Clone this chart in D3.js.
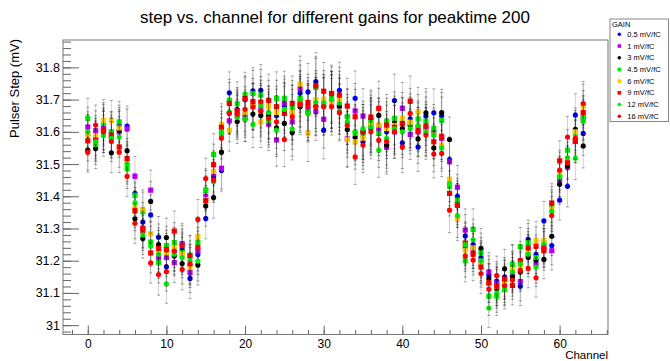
<!DOCTYPE html>
<html><head><meta charset="utf-8">
<script src="https://cdn.jsdelivr.net/npm/d3@7"></script>
<style>body{margin:0;background:#fff}svg{display:block;font-family:"Liberation Sans",Arial,Helvetica,sans-serif}</style>
</head><body><svg id="c" width="670" height="361"></svg>
<script>
const channels = [0,1,2,3,4,5,6,7,8,9,10,11,12,13,14,15,16,17,18,19,20,21,22,23,24,25,26,27,28,29,30,31,32,33,34,35,36,37,38,39,40,41,42,43,44,45,46,47,48,49,50,51,52,53,54,55,56,57,58,59,60,61,62,63];
const gains = ["0.5 mV/fC","1 mV/fC","3 mV/fC","4.5 mV/fC","6 mV/fC","9 mV/fC","12 mV/fC","16 mV/fC"];
const colors = ["#0000ff","#c000ff","#000000","#00ee00","#ffc800","#ff0000","#00ee00","#ff0000"];
const shapes = ["circle","square","circle","square","square","square","circle","circle"];

const gain0p5 = [31.59,31.58,31.62,31.60,31.62,31.618,31.409,31.32,31.342,31.273,31.181,31.23,31.235,31.145,31.219,31.331,31.46,31.48,31.721,31.67,31.70,31.727,31.729,31.66,31.65,31.68,31.66,31.72,31.724,31.756,31.605,31.70,31.729,31.647,31.704,31.569,31.61,31.62,31.60,31.697,31.566,31.64,31.553,31.649,31.659,31.65,31.514,31.40,31.277,31.25,31.21,31.155,31.137,31.15,31.19,31.121,31.266,31.22,31.324,31.247,31.388,31.431,31.652,31.595];
const gain1 = [31.615,31.603,31.61,31.583,31.60,31.609,31.462,31.30,31.419,31.209,31.21,31.194,31.253,31.163,31.23,31.40,31.47,31.487,31.634,31.65,31.653,31.68,31.67,31.624,31.575,31.689,31.631,31.734,31.67,31.663,31.639,31.69,31.68,31.578,31.665,31.649,31.622,31.61,31.552,31.60,31.673,31.592,31.60,31.61,31.60,31.58,31.507,31.428,31.295,31.23,31.195,31.165,31.13,31.14,31.16,31.135,31.22,31.19,31.24,31.231,31.45,31.49,31.57,31.64];
const gain3 = [31.543,31.548,31.60,31.535,31.605,31.541,31.33,31.269,31.384,31.25,31.272,31.215,31.191,31.187,31.187,31.37,31.396,31.537,31.66,31.632,31.64,31.655,31.651,31.65,31.612,31.626,31.598,31.678,31.66,31.68,31.68,31.698,31.68,31.607,31.583,31.60,31.64,31.651,31.559,31.629,31.61,31.62,31.578,31.659,31.55,31.66,31.576,31.38,31.24,31.241,31.238,31.144,31.113,31.175,31.15,31.165,31.21,31.202,31.204,31.276,31.437,31.494,31.608,31.556];
const gain4p5 = [31.642,31.561,31.626,31.60,31.631,31.486,31.403,31.352,31.258,31.195,31.247,31.256,31.226,31.217,31.256,31.417,31.53,31.592,31.698,31.687,31.715,31.719,31.714,31.635,31.704,31.704,31.674,31.704,31.662,31.738,31.687,31.714,31.69,31.647,31.595,31.59,31.63,31.595,31.633,31.642,31.627,31.627,31.64,31.633,31.611,31.636,31.431,31.388,31.20,31.297,31.224,31.09,31.09,31.11,31.188,31.243,31.256,31.21,31.256,31.37,31.462,31.543,31.593,31.645];
const gain6 = [31.592,31.588,31.636,31.635,31.612,31.507,31.365,31.359,31.284,31.23,31.225,31.241,31.22,31.179,31.274,31.39,31.477,31.623,31.605,31.66,31.66,31.678,31.631,31.678,31.66,31.666,31.66,31.748,31.596,31.70,31.701,31.688,31.701,31.576,31.569,31.58,31.62,31.621,31.61,31.62,31.642,31.63,31.662,31.60,31.59,31.559,31.453,31.331,31.233,31.24,31.19,31.13,31.12,31.13,31.17,31.18,31.23,31.262,31.262,31.36,31.475,31.515,31.60,31.68];
const gain9 = [31.572,31.574,31.607,31.59,31.553,31.517,31.355,31.293,31.224,31.238,31.235,31.292,31.247,31.215,31.241,31.386,31.498,31.614,31.688,31.665,31.703,31.694,31.692,31.697,31.678,31.657,31.688,31.69,31.691,31.743,31.726,31.719,31.714,31.68,31.647,31.60,31.646,31.673,31.621,31.614,31.625,31.695,31.614,31.618,31.569,31.586,31.409,31.372,31.255,31.22,31.18,31.131,31.121,31.143,31.123,31.20,31.24,31.245,31.231,31.379,31.51,31.504,31.571,31.66];
const gain12 = [31.60,31.57,31.588,31.58,31.584,31.50,31.38,31.28,31.245,31.22,31.128,31.22,31.21,31.20,31.199,31.422,31.445,31.60,31.66,31.645,31.64,31.623,31.68,31.66,31.605,31.67,31.609,31.70,31.656,31.691,31.69,31.70,31.664,31.63,31.60,31.61,31.615,31.543,31.58,31.61,31.60,31.61,31.62,31.60,31.59,31.55,31.44,31.34,31.25,31.265,31.20,31.053,31.10,31.12,31.165,31.19,31.22,31.18,31.25,31.353,31.46,31.52,31.518,31.632];
const gain16 = [31.537,31.621,31.60,31.57,31.537,31.462,31.316,31.303,31.193,31.157,31.166,31.23,31.173,31.19,31.328,31.455,31.45,31.58,31.657,31.655,31.67,31.677,31.664,31.642,31.631,31.576,31.647,31.685,31.68,31.678,31.678,31.678,31.659,31.62,31.522,31.559,31.60,31.574,31.57,31.60,31.553,31.657,31.60,31.59,31.531,31.533,31.357,31.371,31.215,31.202,31.16,31.112,31.154,31.123,31.14,31.17,31.176,31.147,31.24,31.34,31.481,31.584,31.58,31.688];
const errs = [0.062,0.062,0.064,0.062,0.063,0.062,0.062,0.061,0.062,0.064,0.060,0.062,0.063,0.062,0.062,0.063,0.064,0.064,0.065,0.068,0.070,0.072,0.080,0.082,0.082,0.084,0.085,0.087,0.088,0.090,0.089,0.088,0.087,0.086,0.085,0.085,0.084,0.084,0.083,0.082,0.080,0.078,0.076,0.075,0.074,0.072,0.070,0.068,0.066,0.064,0.062,0.060,0.060,0.060,0.060,0.060,0.060,0.060,0.060,0.060,0.062,0.064,0.066,0.068];
const series = [gain0p5, gain1, gain3, gain4p5, gain6, gain9, gain12, gain16];

const xTicks = [0,10,20,30,40,50,60];
const xMinor = [-2,0,2,4,6,8,10,12,14,16,18,20,22,24,26,28,30,32,34,36,38,40,42,44,46,48,50,52,54,56,58,60,62,64,66];
const yTicks = [31,31.1,31.2,31.3,31.4,31.5,31.6,31.7,31.8];
const yMinor = [30.98,31,31.02,31.04,31.06,31.08,31.1,31.12,31.14,31.16,31.18,31.2,31.22,31.24,31.26,31.28,31.3,31.32,31.34,31.36,31.38,31.4,31.42,31.44,31.46,31.48,31.5,31.52,31.54,31.56,31.58,31.6,31.62,31.64,31.66,31.68,31.7,31.72,31.74,31.76,31.78,31.8,31.82,31.84,31.86,31.88];

const L = 63, R = 608, T = 40, B = 334.5;
const svg = d3.select("#c");
const x = d3.scaleLinear().domain([-3.15, 66.15]).range([L, R]);
const y = d3.scaleLinear().domain([30.971, 31.885]).range([B, T]);

// frame
svg.append("rect").attr("x", L).attr("y", T).attr("width", R - L).attr("height", B - T)
  .attr("fill", "none").attr("stroke", "#777").attr("stroke-width", 1);

// x axis
const xa = svg.append("g").attr("transform", `translate(0,${B})`);
xa.call(d3.axisBottom(x).tickValues(xMinor).tickSize(-4.5).tickFormat(""))
  .call(g => g.select(".domain").remove())
  .call(g => g.selectAll("line").attr("stroke", "#666"));
const xa2 = svg.append("g").attr("transform", `translate(0,${B})`);
xa2.call(d3.axisBottom(x).tickValues(xTicks).tickSize(-9).tickPadding(5).tickFormat(d3.format("d")))
  .call(g => g.select(".domain").remove())
  .call(g => g.selectAll("line").attr("stroke", "#666"))
  .call(g => g.selectAll("text").attr("font-size", 12).attr("fill", "#000").attr("font-family", "Liberation Sans, Arial, sans-serif"));

// y axis
const ya = svg.append("g").attr("transform", `translate(${L},0)`);
ya.call(d3.axisLeft(y).tickValues(yMinor.filter(v => y(v) >= T && y(v) <= B)).tickSize(-8).tickFormat(""))
  .call(g => g.select(".domain").remove())
  .call(g => g.selectAll("line").attr("stroke", "#666"));
const ya2 = svg.append("g").attr("transform", `translate(${L},0)`);
ya2.call(d3.axisLeft(y).tickValues(yTicks).tickSize(-16).tickPadding(3).tickFormat(d => d3.format("")(+d.toFixed(1))))
  .call(g => g.select(".domain").remove())
  .call(g => g.selectAll("line").attr("stroke", "#666"))
  .call(g => g.selectAll("text").attr("font-size", 12.5).attr("fill", "#000").attr("font-family", "Liberation Sans, Arial, sans-serif").attr("x", -3));

// axis titles
svg.append("text").attr("x", R).attr("y", 358.5).attr("text-anchor", "end")
  .attr("font-size", 11.5).text("Channel");
svg.append("text").attr("transform", `translate(19,${T - 1}) rotate(-90)`).attr("text-anchor", "end")
  .attr("font-size", 13).text("Pulser Step (mV)");

// title
svg.append("text").attr("x", 335).attr("y", 23).attr("text-anchor", "middle")
  .attr("font-size", 17).text("step vs. channel for different gains for peaktime 200");

// data
const plot = svg.append("g");
series.forEach((vals, si) => {
  const g = plot.append("g");
  const pts = channels.map((c, i) => ({c, v: vals[i], e: errs[i]}));
  g.selectAll("line.eb").data(pts).join("line").attr("class", "eb")
    .attr("x1", d => x(d.c)).attr("x2", d => x(d.c))
    .attr("y1", d => y(d.v - d.e)).attr("y2", d => y(d.v + d.e))
    .attr("stroke", "#000").attr("stroke-opacity", 0.18).attr("stroke-width", 1);
  [-1, 1].forEach(s => {
    g.selectAll("line.cap" + (s > 0 ? "u" : "d")).data(pts).join("line").attr("class", "cap" + (s > 0 ? "u" : "d"))
      .attr("x1", d => x(d.c) - 1.5).attr("x2", d => x(d.c) + 1.5)
      .attr("y1", d => y(d.v + s * d.e)).attr("y2", d => y(d.v + s * d.e))
      .attr("stroke", "#000").attr("stroke-opacity", 0.45).attr("stroke-width", 0.8);
  });
  if (shapes[si] === "circle") {
    g.selectAll("circle").data(pts).join("circle")
      .attr("cx", d => x(d.c)).attr("cy", d => y(d.v)).attr("r", 2.6)
      .attr("fill", colors[si]);
  } else {
    g.selectAll("rect").data(pts).join("rect")
      .attr("x", d => x(d.c) - 2.6).attr("y", d => y(d.v) - 2.6).attr("width", 5.2).attr("height", 5.2)
      .attr("fill", colors[si]);
  }
});

// legend
const lg = svg.append("g");
lg.append("rect").attr("x", 610).attr("y", 19).attr("width", 58.5).attr("height", 102.5)
  .attr("fill", "#fff").attr("stroke", "#888").attr("stroke-width", 1);
lg.append("text").attr("x", 612).attr("y", 26.5).attr("font-size", 7.5).text("GAIN");
gains.forEach((gname, i) => {
  const cy = 34.3 + i * 11.7;
  if (shapes[i] === "circle") {
    lg.append("circle").attr("cx", 619.3).attr("cy", cy).attr("r", 1.8).attr("fill", colors[i]);
  } else {
    lg.append("rect").attr("x", 617.5).attr("y", cy - 1.8).attr("width", 3.6).attr("height", 3.6).attr("fill", colors[i]);
  }
  lg.append("text").attr("x", 627.3).attr("y", cy + 2.6).attr("font-size", 7.5).text(gname);
});
</script></body></html>
